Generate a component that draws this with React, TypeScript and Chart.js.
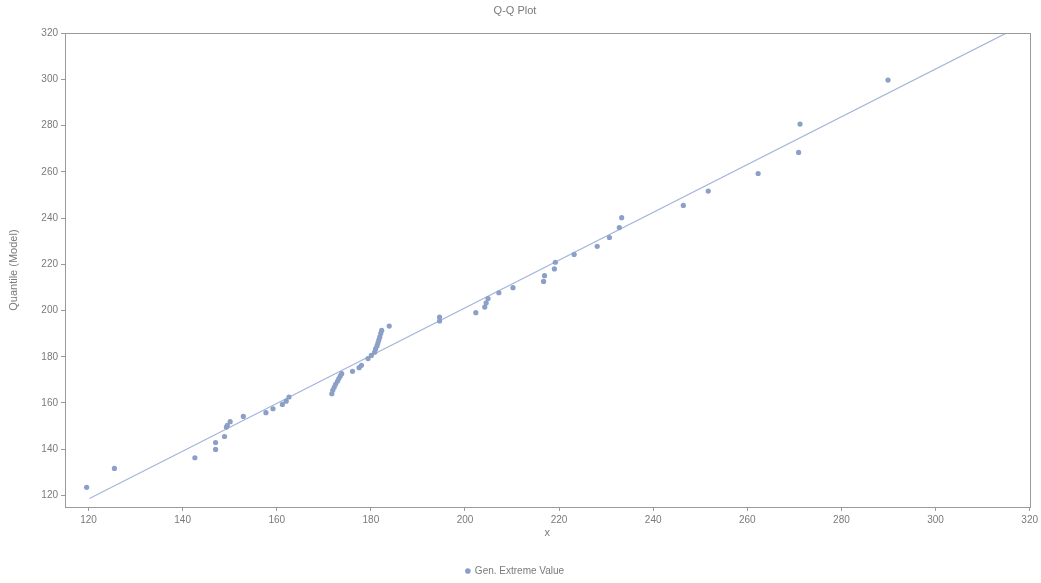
import React, { useEffect, useRef } from "react";
import { Chart, registerables } from "chart.js";

Chart.register(...registerables);

// Observed sample values (x) and model quantiles (y)
const sampleX = [
  119.6, 125.5, 142.6, 147.0, 147.0, 148.9, 149.3, 149.5, 150.1, 152.9,
  157.7, 159.2, 161.2, 162.0, 162.6,
  171.7, 171.9, 172.2, 172.5, 172.9, 173.2, 173.5, 173.8,
  176.1, 177.5, 178.0, 179.4, 180.1,
  180.8, 181.0, 181.3, 181.5, 181.7, 181.9, 182.1, 182.3, 183.9,
  194.6, 194.6, 202.3, 204.2, 204.5, 204.9, 207.2, 210.2,
  216.7, 216.9, 219.0, 219.2, 223.2, 228.1, 230.7, 232.8, 233.3,
  246.4, 251.7, 262.3, 270.9, 271.2, 289.9,
];
const modelY = [
  123.5, 131.7, 136.3, 142.9, 139.9, 145.5, 149.6, 150.3, 151.9, 154.2,
  155.8, 157.5, 159.4, 160.8, 162.6,
  164.0, 165.5, 166.8, 168.1, 169.4, 170.6, 171.7, 172.7,
  173.7, 175.3, 176.3, 179.2, 180.6,
  182.0, 183.4, 184.7, 186.0, 187.3, 188.6, 190.1, 191.4, 193.3,
  197.2, 195.5, 199.1, 201.5, 203.3, 205.2, 207.7, 209.9,
  212.6, 215.1, 218.0, 220.9, 224.3, 227.8, 231.6, 235.9, 240.2,
  245.5, 251.7, 259.3, 268.4, 280.7, 299.7,
];
// Reference line endpoints
const lineX = [120.2, 315.0];
const lineY = [118.7, 320.0];

const xTickValues = [120, 140, 160, 180, 200, 220, 240, 260, 280, 300, 320];
const yTickValues = [120, 140, 160, 180, 200, 220, 240, 260, 280, 300, 320];

const FONT = "'Liberation Sans', Arial, sans-serif";
const TEXT = "#7a7a7a";
const AXIS = "#9a9a9a";

const boxPlugin = {
  id: "plotBox",
  afterDraw(chart: any) {
    const { ctx, chartArea } = chart;
    ctx.save();
    ctx.strokeStyle = AXIS;
    ctx.lineWidth = 1;
    ctx.strokeRect(
      Math.round(chartArea.left) + 0.5,
      Math.round(chartArea.top) + 0.5,
      Math.round(chartArea.right - chartArea.left),
      Math.round(chartArea.bottom - chartArea.top)
    );
    ctx.restore();
  },
};

export default function App() {
  const ref = useRef<HTMLCanvasElement | null>(null);

  useEffect(() => {
    if (!ref.current) return;
    const chart = new Chart(ref.current, {
      type: "scatter",
      data: {
        datasets: [
          {
            label: "Gen. Extreme Value",
            data: sampleX.map((x, i) => ({ x, y: modelY[i] })),
            backgroundColor: "#8c9fc6",
            borderColor: "#8c9fc6",
            pointRadius: 2.6,
            pointHoverRadius: 2.6,
            borderWidth: 0,
            order: 1,
          },
          {
            type: "line",
            label: "line",
            data: lineX.map((x, i) => ({ x, y: lineY[i] })),
            borderColor: "#a3b5da",
            borderWidth: 1.2,
            pointRadius: 0,
            fill: false,
            order: 2,
          } as any,
        ],
      },
      options: {
        animation: false,
        responsive: true,
        maintainAspectRatio: false,
        layout: { padding: { left: 0, right: 11, top: 0, bottom: -3 } },
        plugins: {
          title: {
            display: true,
            text: "Q-Q Plot",
            color: TEXT,
            font: { family: FONT, size: 11, weight: "normal" },
            padding: { top: 4, bottom: 16 },
          },
          legend: {
            display: true,
            position: "bottom",
            labels: {
              filter: (item: any) => item.datasetIndex === 0,
              usePointStyle: true,
              pointStyle: "circle",
              boxWidth: 4,
              boxHeight: 4,
              color: TEXT,
              font: { family: FONT, size: 10 },
              padding: 2,
            },
          },
          tooltip: { enabled: false },
        },
        scales: {
          x: {
            type: "linear",
            min: 115,
            max: 320,
            afterBuildTicks: (scale: any) => {
              scale.ticks = xTickValues.map((v) => ({ value: v }));
            },
            afterFit: (scale: any) => {
              scale.height = 57;
            },
            ticks: {
              color: TEXT,
              font: { family: FONT, size: 10 },
              padding: 3,
              maxRotation: 0,
              autoSkip: false,
            },
            grid: { display: true, drawOnChartArea: false, drawTicks: true, tickLength: 4, color: AXIS },
            border: { display: true, color: AXIS },
            title: {
              display: true,
              text: "x",
              color: TEXT,
              font: { family: FONT, size: 11 },
              padding: { top: 0, bottom: 24 },
            },
          },
          y: {
            type: "linear",
            min: 115,
            max: 320,
            afterBuildTicks: (scale: any) => {
              scale.ticks = yTickValues.map((v) => ({ value: v }));
            },
            afterFit: (scale: any) => {
              scale.width = 65;
            },
            ticks: {
              color: TEXT,
              font: { family: FONT, size: 10 },
              padding: 3,
              autoSkip: false,
            },
            grid: { display: true, drawOnChartArea: false, drawTicks: true, tickLength: 4, color: AXIS },
            border: { display: true, color: AXIS },
            title: {
              display: true,
              text: "Quantile (Model)",
              color: TEXT,
              font: { family: FONT, size: 11 },
              padding: { top: 7, bottom: 0 },
            },
          },
        },
      },
      plugins: [boxPlugin],
    });
    return () => chart.destroy();
  }, []);

  return (
    <div style={{ position: "absolute", left: 0, top: 0, width: 1041, height: 583, background: "#fff" }}>
      <canvas ref={ref} />
    </div>
  );
}
